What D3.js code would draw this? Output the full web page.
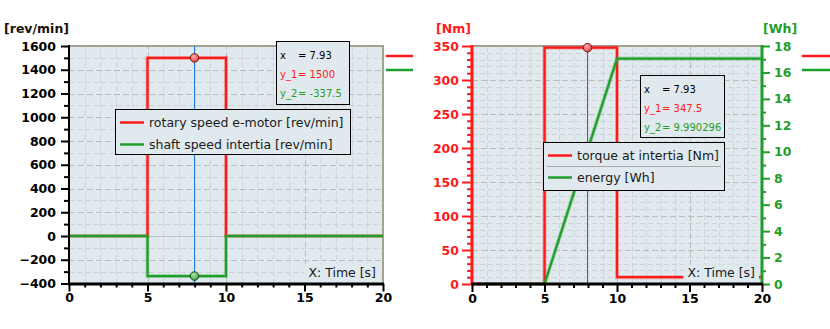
<!DOCTYPE html>
<html>
<head>
<meta charset="utf-8">
<script src="https://cdn.jsdelivr.net/npm/d3@7/dist/d3.min.js"></script>
<style>
  html, body { margin: 0; padding: 0; background: #fff; }
  svg { display: block; }
  text { font-family: "DejaVu Sans", Verdana, sans-serif; }
</style>
</head>
<body>
<svg id="chart" width="830" height="329"></svg>
<script>
// ---- data -------------------------------------------------------------
const timeTicks = [0, 5, 10, 15, 20];

// speed plot (rev/min)
const speedTime   = [0, 5, 5, 10, 10, 20];
const rotarySpeed = [0, 0, 1500, 1500, 0, 0];        // rotary speed e-motor
const shaftSpeed  = [0, 0, -337.5, -337.5, 0, 0];    // shaft speed intertia
const speedTicks  = [-400, -200, 0, 200, 400, 600, 800, 1000, 1200, 1400, 1600];

// torque / energy plot
const torqueTime  = [0, 5, 5, 10, 10, 20];
const torque      = [0, 0, 347.5, 347.5, 10, 10];    // torque at intertia [Nm]
const energyTime  = [0, 5, 10, 20];
const energy      = [0, 0, 17.05, 17.05];            // energy [Wh]
const torqueTicks = [0, 50, 100, 150, 200, 250, 300, 350];
const energyTicks = [0, 2, 4, 6, 8, 10, 12, 14, 16, 18];

// cursor read-outs
const cursorTime    = 7.93;
const speedReadout  = [1500, -337.5];
const torqueReadout = [347.5, 9.990296];

const seriesNames = {
  speed:  ["rotary speed e-motor [rev/min]", "shaft speed intertia [rev/min]"],
  torque: ["torque at intertia [Nm]", "energy [Wh]"]
};

// ---- styling ----------------------------------------------------------
const RED = "#ff1a1a", GREEN = "#1f9e2a", BG = "#e0e9ee";
const BORDER = "#a3a394";
const svg = d3.select("#chart");

const defs = svg.append("defs");
function ballGradient(id, light, dark) {
  const g = defs.append("radialGradient").attr("id", id)
    .attr("cx", "40%").attr("cy", "35%").attr("r", "65%");
  g.append("stop").attr("offset", "0%").attr("stop-color", light);
  g.append("stop").attr("offset", "100%").attr("stop-color", dark);
}
ballGradient("ballRed", "#ffb0b0", "#e04040");
ballGradient("ballGreen", "#b0e8b0", "#3c9c3c");

function zip(ts, vs) { return ts.map((t, i) => [t, vs[i]]); }

function grid(g, x, y, xMinor, xMajor, yMinor, yMajor) {
  const [x0, x1] = x.range(), [y0, y1] = y.range();
  const minorStyle = s => s.attr("stroke", "#cdd3d6").attr("stroke-width", 1).attr("stroke-dasharray", "5,3");
  const majorStyle = s => s.attr("stroke", "#bcbcbc").attr("stroke-width", 1).attr("stroke-dasharray", "6,3");
  g.selectAll(null).data(xMinor).join("line")
    .attr("x1", d => Math.round(x(d)) + 0.5).attr("x2", d => Math.round(x(d)) + 0.5)
    .attr("y1", y0).attr("y2", y1).call(minorStyle);
  g.selectAll(null).data(yMinor).join("line")
    .attr("y1", d => Math.round(y(d)) + 0.5).attr("y2", d => Math.round(y(d)) + 0.5)
    .attr("x1", x0).attr("x2", x1).call(minorStyle);
  g.selectAll(null).data(xMajor).join("line")
    .attr("x1", d => Math.round(x(d)) + 0.5).attr("x2", d => Math.round(x(d)) + 0.5)
    .attr("y1", y0).attr("y2", y1).call(majorStyle);
  g.selectAll(null).data(yMajor).join("line")
    .attr("y1", d => Math.round(y(d)) + 0.5).attr("y2", d => Math.round(y(d)) + 0.5)
    .attr("x1", x0).attr("x2", x1).call(majorStyle);
}

function styleAxis(g, color, width) {
  g.select(".domain").remove();
  g.selectAll(".tick line").attr("stroke", color).attr("stroke-width", width);
  g.selectAll(".tick text")
    .attr("fill", color)
    .style("font-size", "12.5px").style("font-weight", "bold")
    .style("font-family", "'DejaVu Sans', Verdana, sans-serif");
}

function xAxis(g, x, y) {
  const yb = y.range()[0];
  const minor = d3.range(0, 21).filter(d => d % 5 !== 0);
  g.append("g").attr("transform", `translate(0,${yb})`)
    .call(d3.axisBottom(x).tickValues(minor).tickSize(4).tickFormat(""))
    .call(s => styleAxis(s, "#000", 2));
  g.append("g").attr("transform", `translate(0,${yb})`)
    .call(d3.axisBottom(x).tickValues(timeTicks).tickSize(8).tickPadding(2).tickFormat(d3.format("d")))
    .call(s => styleAxis(s, "#000", 2));
}

function seriesLine(g, x, y, ts, vs, color) {
  const line = d3.line().x(d => x(d[0])).y(d => y(d[1]));
  g.append("path").datum(zip(ts, vs)).attr("d", line)
    .attr("fill", "none").attr("stroke", color).attr("stroke-opacity", 0.3)
    .attr("stroke-width", 4).attr("stroke-linejoin", "miter");
  g.append("path").datum(zip(ts, vs)).attr("d", line)
    .attr("fill", "none").attr("stroke", color)
    .attr("stroke-width", 2.2).attr("stroke-linejoin", "miter");
}

function tooltip(g, left, top, w, h, xCol, rows) {
  g.append("rect").attr("x", left + 0.5).attr("y", top + 0.5).attr("width", w).attr("height", h)
    .attr("fill", BG).attr("stroke", "#000").attr("stroke-width", 1);
  rows.forEach((r, i) => {
    const ty = top + 14 + i * 19;
    g.append("text").attr("x", left + 4).attr("y", ty).attr("dy", "0.35em")
      .attr("fill", r.color).style("font-size", "10px").text(r.name);
    g.append("text").attr("x", left + xCol).attr("y", ty).attr("dy", "0.35em")
      .attr("fill", r.color).style("font-size", "10px").text("= " + r.value);
  });
}

function legend(g, left, top, w, h, entries, separator) {
  g.append("rect").attr("x", left + 0.5).attr("y", top + 0.5).attr("width", w).attr("height", h)
    .attr("fill", BG).attr("stroke", "#000").attr("stroke-width", 1);
  entries.forEach((e, i) => {
    const ly = top + 13.5 + i * 22;
    g.append("line").attr("x1", left + 5).attr("x2", left + 29).attr("y1", ly).attr("y2", ly)
      .attr("stroke", e.color).attr("stroke-width", 2.5);
    g.append("text").attr("x", left + 34).attr("y", ly).attr("dy", "0.35em")
      .attr("fill", "#1a1a1a").style("font-size", "12.5px").text(e.name);
  });
  if (separator) {
    g.append("line").attr("x1", left + 4).attr("x2", left + w - 3)
      .attr("y1", top + 24.5).attr("y2", top + 24.5)
      .attr("stroke", "#a8a8a8").attr("stroke-width", 1);
  }
}

function timeLabel(g, x, y) {
  const tx = x.range()[1] - 7, ty = y.range()[0] - 11;
  const t = g.append("text").attr("x", tx).attr("y", ty).attr("dy", "0.35em")
    .attr("text-anchor", "end").attr("fill", "#1a1a1a").style("font-size", "12.5px")
    .text("X: Time [s]");
  const bb = t.node().getBBox();
  g.insert("rect", function () { return t.node(); })
    .attr("x", bb.x - 4).attr("y", bb.y - 1).attr("width", bb.width + 8).attr("height", bb.height + 3)
    .attr("fill", BG);
}

function ball(g, cx, cy, fill, stroke) {
  g.append("circle").attr("cx", cx).attr("cy", cy).attr("r", 4.3)
    .attr("fill", `url(#${fill})`).attr("stroke", stroke).attr("stroke-width", 1);
}

// ---- speed plot -------------------------------------------------------
{
  const x = d3.scaleLinear([0, 20], [69, 383]);
  const y = d3.scaleLinear([-400, 1600], [283.5, 46]);
  const g = svg.append("g");

  g.append("rect").attr("x", 69).attr("y", 46).attr("width", 314).attr("height", 237.5).attr("fill", BG);
  grid(g.append("g"), x, y,
    d3.range(1, 20).filter(d => d % 5 !== 0), [5, 10, 15],
    d3.range(-300, 1600, 200), speedTicks.filter(d => d !== 0));
  g.append("line").attr("x1", 69).attr("x2", 383).attr("y1", Math.round(y(0)) + 0.5).attr("y2", Math.round(y(0)) + 0.5)
    .attr("stroke", "#c4c4c4").attr("stroke-width", 1);

  // frame
  g.append("line").attr("x1", 69).attr("x2", 384).attr("y1", 46).attr("y2", 46).attr("stroke", BORDER).attr("stroke-width", 2);
  g.append("line").attr("x1", 383).attr("x2", 383).attr("y1", 46).attr("y2", 284).attr("stroke", BORDER).attr("stroke-width", 2);

  seriesLine(g, x, y, speedTime, rotarySpeed, RED);
  seriesLine(g, x, y, speedTime, shaftSpeed, GREEN);

  // cursor
  const cx = Math.round(x(cursorTime)) + 0.5;
  g.append("line").attr("x1", cx).attr("x2", cx).attr("y1", 46).attr("y2", 284)
    .attr("stroke", "#1f7ae0").attr("stroke-width", 1);
  ball(g, cx, y(speedReadout[0]), "ballRed", "#7a1a1a");
  ball(g, cx, y(speedReadout[1]), "ballGreen", "#1d4d1d");

  // axes
  g.append("g").attr("transform", "translate(69,0)")
    .call(d3.axisLeft(y).tickValues(d3.range(-300, 1600, 200)).tickSize(5).tickFormat(""))
    .call(s => styleAxis(s, "#000", 2));
  g.append("g").attr("transform", "translate(69,0)")
    .call(d3.axisLeft(y).tickValues(speedTicks).tickSize(8).tickPadding(5).tickFormat(d3.format("d")))
    .call(s => styleAxis(s, "#000", 2));
  g.append("line").attr("x1", 69).attr("x2", 69).attr("y1", 45).attr("y2", 285).attr("stroke", "#000").attr("stroke-width", 2);
  xAxis(g, x, y);
  g.append("line").attr("x1", 68).attr("x2", 384).attr("y1", 284).attr("y2", 284).attr("stroke", "#000").attr("stroke-width", 3);

  g.append("text").attr("x", 4).attr("y", 29).attr("dy", "0.35em")
    .attr("fill", "#1a1208").style("font-size", "12.5px").style("font-weight", "bold").text("[rev/min]");

  timeLabel(g, x, y);

  legend(g, 115, 109, 235, 45, [
    { name: seriesNames.speed[0], color: RED },
    { name: seriesNames.speed[1], color: GREEN }
  ], false);

  tooltip(g, 276, 41, 73, 63, 22, [
    { name: "x", value: String(cursorTime), color: "#000" },
    { name: "y_1", value: String(speedReadout[0]), color: RED },
    { name: "y_2", value: String(speedReadout[1]), color: GREEN }
  ]);

  // legend line stubs outside the plot
  g.append("line").attr("x1", 386).attr("x2", 413).attr("y1", 56).attr("y2", 56).attr("stroke", RED).attr("stroke-width", 2.5);
  g.append("line").attr("x1", 386).attr("x2", 413).attr("y1", 70).attr("y2", 70).attr("stroke", GREEN).attr("stroke-width", 2.5);
}

// ---- torque / energy plot ---------------------------------------------
{
  const x = d3.scaleLinear([0, 20], [472, 762]);
  const y1 = d3.scaleLinear([0, 350], [284, 46]);
  const y2 = d3.scaleLinear([0, 18], [284, 46]);
  const g = svg.append("g");

  g.append("rect").attr("x", 472).attr("y", 46).attr("width", 290).attr("height", 238).attr("fill", BG);
  grid(g.append("g"), x, y1,
    d3.range(1, 20).filter(d => d % 5 !== 0), [5, 10, 15],
    d3.range(10, 350, 10).filter(d => d % 50 !== 0), torqueTicks.filter(d => d !== 0));

  g.append("line").attr("x1", 472).attr("x2", 762).attr("y1", 46).attr("y2", 46).attr("stroke", BORDER).attr("stroke-width", 2);

  seriesLine(g, x, y1, torqueTime, torque, RED);
  seriesLine(g, x, y2, energyTime, energy, GREEN);

  // cursor
  const cx = Math.round(x(cursorTime)) + 0.5;
  g.append("line").attr("x1", cx).attr("x2", cx).attr("y1", y1(torqueReadout[0])).attr("y2", 284)
    .attr("stroke", "#2a6cc0").attr("stroke-width", 1);
  ball(g, cx, y2(torqueReadout[1]), "ballGreen", "#1d4d1d");
  ball(g, cx, y1(torqueReadout[0]), "ballRed", "#7a1a1a");

  timeLabel(g, x, y1);

  // left axis (torque)
  g.append("g").attr("transform", "translate(472,0)")
    .call(d3.axisLeft(y1).tickValues(d3.range(10, 350, 10).filter(d => d % 50 !== 0)).tickSize(5).tickFormat(""))
    .call(s => styleAxis(s, RED, 2));
  g.append("g").attr("transform", "translate(472,0)")
    .call(d3.axisLeft(y1).tickValues(torqueTicks).tickSize(10).tickPadding(3).tickFormat(d3.format("d")))
    .call(s => styleAxis(s, RED, 2));
  g.append("line").attr("x1", 472).attr("x2", 472).attr("y1", 45).attr("y2", 285).attr("stroke", RED).attr("stroke-width", 3);

  // right axis (energy)
  g.append("g").attr("transform", "translate(762,0)")
    .call(d3.axisRight(y2).tickValues(d3.range(1, 18, 2)).tickSize(4).tickFormat(""))
    .call(s => styleAxis(s, GREEN, 2));
  g.append("g").attr("transform", "translate(762,0)")
    .call(d3.axisRight(y2).tickValues(energyTicks).tickSize(8).tickPadding(4).tickFormat(d3.format("d")))
    .call(s => styleAxis(s, GREEN, 2));
  g.append("line").attr("x1", 762).attr("x2", 762).attr("y1", 45).attr("y2", 285).attr("stroke", GREEN).attr("stroke-width", 3);

  xAxis(g, x, y1);
  g.append("line").attr("x1", 471).attr("x2", 763).attr("y1", 284).attr("y2", 284).attr("stroke", "#000").attr("stroke-width", 3);

  g.append("text").attr("x", 471).attr("y", 29).attr("dy", "0.35em").attr("text-anchor", "end")
    .attr("fill", RED).style("font-size", "12.5px").style("font-weight", "bold").text("[Nm]");
  g.append("text").attr("x", 763).attr("y", 29).attr("dy", "0.35em")
    .attr("fill", GREEN).style("font-size", "12.5px").style("font-weight", "bold").text("[Wh]");

  tooltip(g, 640, 75, 84, 62, 22, [
    { name: "x", value: String(cursorTime), color: "#000" },
    { name: "y_1", value: String(torqueReadout[0]), color: RED },
    { name: "y_2", value: String(torqueReadout[1]), color: GREEN }
  ]);

  legend(g, 543, 142, 181, 48, [
    { name: seriesNames.torque[0], color: RED },
    { name: seriesNames.torque[1], color: GREEN }
  ], true);

  // legend line stubs outside the plot
  g.append("line").attr("x1", 802).attr("x2", 830).attr("y1", 56).attr("y2", 56).attr("stroke", RED).attr("stroke-width", 2.5);
  g.append("line").attr("x1", 802).attr("x2", 830).attr("y1", 70).attr("y2", 70).attr("stroke", GREEN).attr("stroke-width", 2.5);
}
</script>
</body>
</html>
